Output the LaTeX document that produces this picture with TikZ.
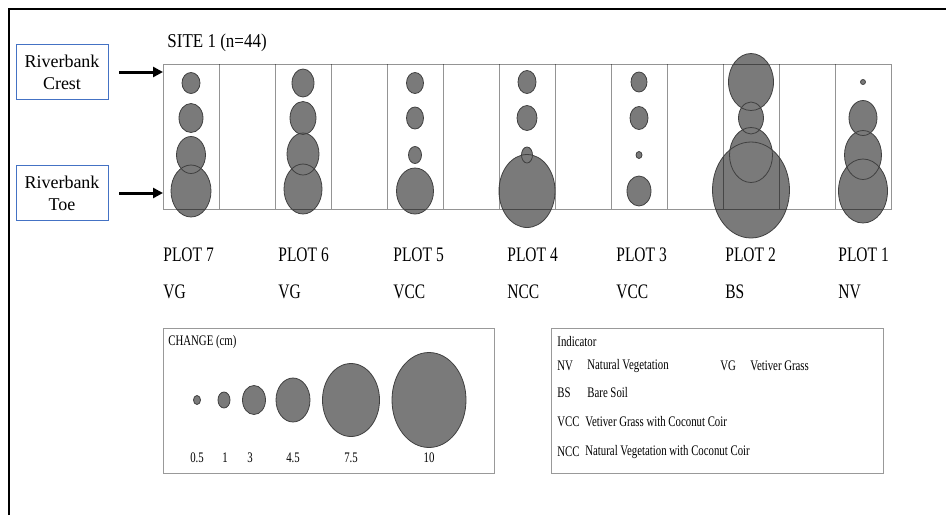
\documentclass[tikz,border=0pt]{standalone}
\usepackage{fontspec}
\setmainfont{Liberation Serif}
\usepackage{xcolor}
\usepackage{tikz}
\usetikzlibrary{arrows.meta}

\definecolor{bankblue}{RGB}{68,114,196}

% x/y centre and radii of the change bubbles, plot by plot
\newcommand{\bubblelist}{
	191/83/9/10.5, 191/118/12/14.5, 191/155/14.5/18.5, 191/191/20/26,
	303/83/11/14, 303/118/13/16.5, 303/154/16/21, 303/189/19/25,
	415/83/8.5/10.5, 415/118/8.5/11, 415/155/6.5/8.5, 415/191/18.5/23,
	527/82/9/11.5, 527/118/10/12.5, 527/155/5.5/8, 527/191/28/36.5,
	639/82/8/10, 639/118/9/11.5, 639/155/3/3.5, 639/191/12/15,
	751/82/22.5/28.5, 751/118/12.5/16, 751/155/21.5/27.5, 751/190/38.5/48,
	863/82/2.5/2.5, 863/118/14/17.5, 863/155/18.5/24.5, 863/191/24.5/32}

\begin{document}
\begin{tikzpicture}[
		x=1pt, y=-1pt,
		line width=0.8pt,
		frame/.style={line width=2pt},
		grid line/.style={draw=black, draw opacity=0.42, line width=1pt},
		bubble fill/.style={fill=black!52},
		bubble line/.style={draw=black!75, line width=0.8pt},
		bank label/.style={draw=bankblue, line width=0.8pt, align=center, minimum width=92pt, minimum height=55pt, inner sep=2pt, font=\fontsize{18}{22}\selectfont},
		bank arrow/.style={-{Triangle[length=10pt, width=10pt]}, line width=3pt, shorten <=11pt},
		site label/.style={anchor=west, inner sep=0pt, yscale=1.15, font=\fontsize{17}{19}\selectfont},
		plot label/.style={anchor=west, inner sep=0pt, yscale=1.33, font=\fontsize{15.5}{17}\selectfont},
		small label/.style={anchor=west, inner sep=0pt, yscale=1.35, font=\fontsize{10.8}{13}\selectfont},
		legend box/.style={draw=black!40, line width=1pt}
		]
	
	\useasboundingbox (0,0) rectangle (946,515);
	
	% Outer frame (cut off at right and bottom)
	\draw[frame] (9,515) -- (9,9) -- (946,9);
	
	% Site title
	\node[site label] (site) at (167,43) {SITE 1 (n=44)};
	
	% Bubbles, filled first
	\foreach \x/\y/\rx/\ry in \bubblelist{
		\fill[bubble fill] (\x,\y) ellipse [x radius=\rx, y radius=\ry];
	}
	
	% Plot grid
	\draw[grid line] (163,64) rectangle (891,209);
	\foreach \x in {219,275,...,835}{
		\draw[grid line] (\x,64) -- (\x,209);
	}
	
	% Bubble outlines on top
	\foreach \x/\y/\rx/\ry in \bubblelist{
		\draw[bubble line] (\x,\y) ellipse [x radius=\rx, y radius=\ry];
	}
	
	% Crest and toe markers
	\node[bank label] (crestbox) at (62,72) {Riverbank\\Crest};
	\node[bank label] (toebox) at (62,193) {Riverbank\\Toe};
	\coordinate (crest) at (163,72);
	\coordinate (toe) at (163,193);
	\draw[bank arrow] (crestbox) -- (crest);
	\draw[bank arrow] (toebox) -- (toe);
	
	% Plot names and treatments
	\foreach \x/\n/\t in {163/7/VG, 278/6/VG, 393/5/VCC, 507/4/NCC, 616/3/VCC, 725/2/BS, 838/1/NV}{
		\node[plot label] (plot\n) at (\x,255) {PLOT \n};
		\node[plot label] (type\n) at (\x,292) {\t};
	}
	
	% Legend: change
	\draw[legend box] (163,328) rectangle (494,473);
	\node[small label] (change) at (168,342) {CHANGE (cm)};
	\foreach \x/\rx/\ry/\v/\lx [count=\i] in {197/3.5/4.5/0.5/197, 224/6/8/1/225, 254/11.5/14.5/3/250, 293/17/22/4.5/293, 351/28.5/36.5/7.5/351, 429/37/47.5/10/429}{
		\filldraw[bubble fill, bubble line] (\x,400) ellipse [x radius=\rx, y radius=\ry];
		\node[small label, anchor=center] (size\i) at (\lx,458) {\v};
	}
	
	% Legend: indicator
	\draw[legend box] (551,328) rectangle (883,473);
	\node[small label] (indicator) at (557,342) {Indicator};
	\foreach \abbr/\desc/\x/\dx/\y in {NV/Natural Vegetation/557/587/366, VG/Vetiver Grass/720/750/366, BS/Bare Soil/557/587/393, VCC/Vetiver Grass with Coconut Coir/557/585/422, NCC/Natural Vegetation with Coconut Coir/557/585/452}{
		\node[small label] (abbr\abbr) at (\x,\y) {\abbr};
		\node[small label] (desc\abbr) at (\dx,\y) {\desc};
	}
	
\end{tikzpicture}
\end{document}
